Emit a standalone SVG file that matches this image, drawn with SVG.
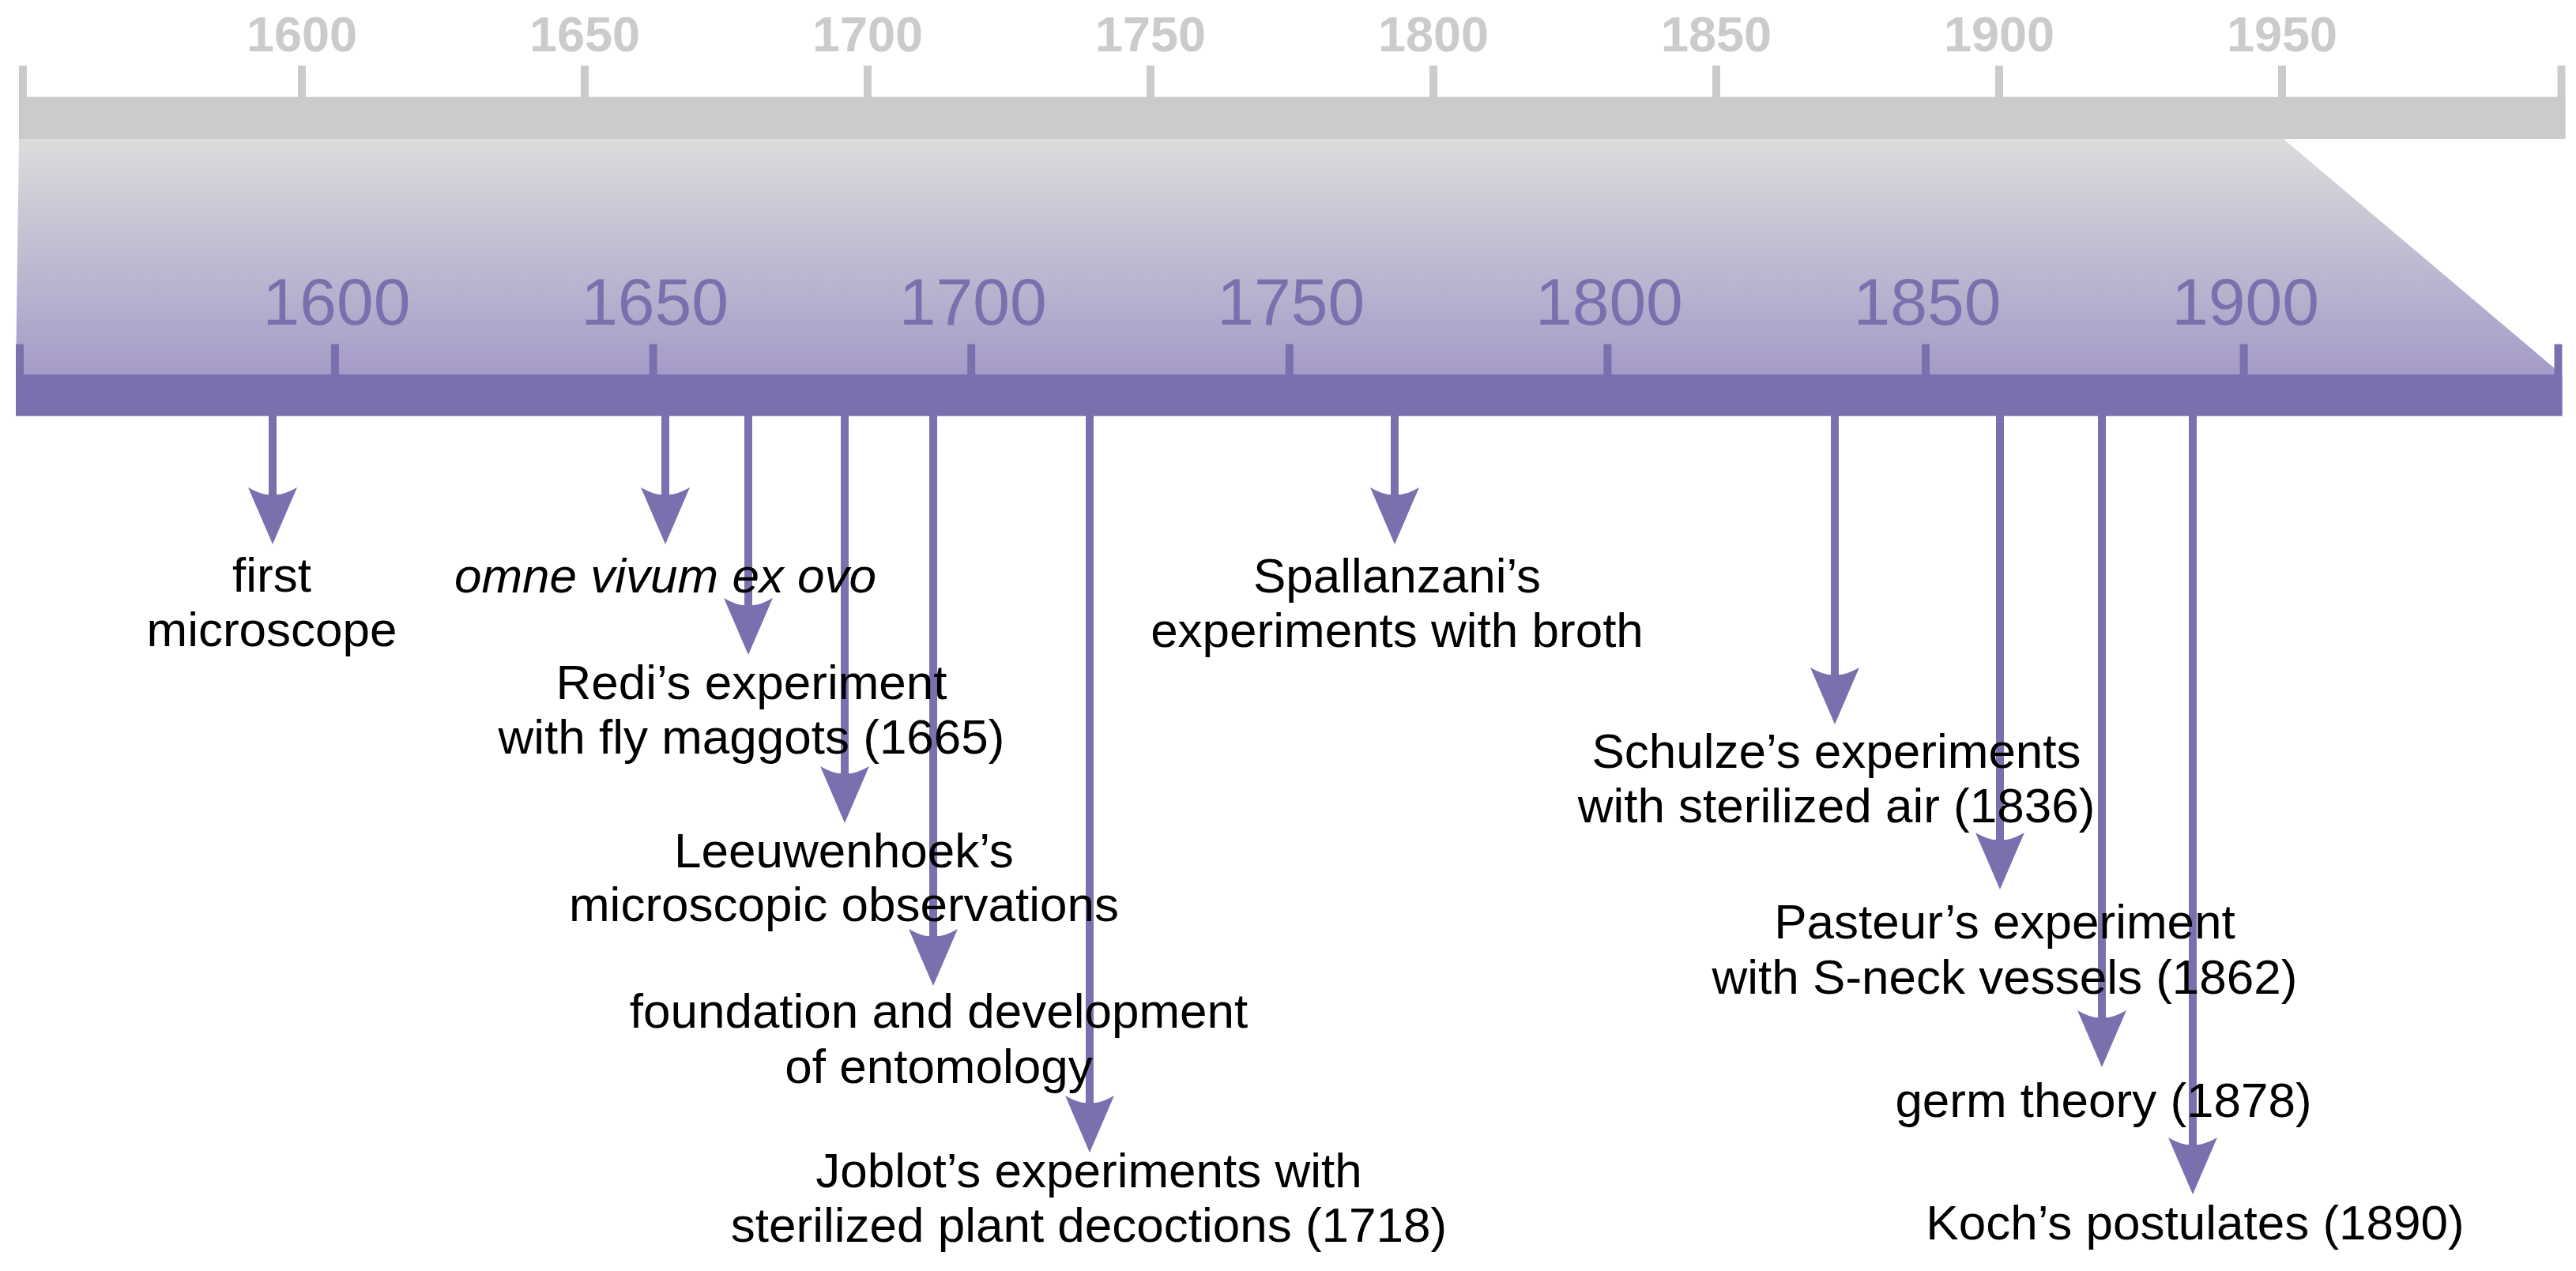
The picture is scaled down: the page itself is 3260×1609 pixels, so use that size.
<svg xmlns="http://www.w3.org/2000/svg" width="3260" height="1609" viewBox="0 0 3260 1609">
<style>
.gt{font-family:"Liberation Sans",Arial,sans-serif;font-weight:bold;font-size:63px;fill:#cbcbcb;text-anchor:middle}
.pt{font-family:"Liberation Sans",Arial,sans-serif;font-size:84px;fill:#7b70ae;text-anchor:middle}
.lb{font-family:"Liberation Sans",Arial,sans-serif;font-size:62px;fill:#000;text-anchor:middle}
.it{font-style:italic}
.gtick{stroke:#cbcbcb;stroke-width:10}
.ptick{stroke:#7b70ae;stroke-width:10}
.stem{stroke:#7b70ae;stroke-width:10;fill:none}
.head{fill:#7b70ae}
</style>
<defs>
<linearGradient id="fade" x1="0" y1="176" x2="0" y2="474" gradientUnits="userSpaceOnUse">
<stop offset="0" stop-color="#dcdcdc"/>
<stop offset="1" stop-color="#a59bc8"/>
</linearGradient>
<path id="ah" d="M-31,-72 Q-12,-61 0,-63 Q12,-61 31,-72 L0,0 Z"/>
</defs>
<g id="zoom-fade">
<polygon points="24,176 2890,176 3242,474 20,474" fill="url(#fade)"/>
</g>
<g id="top-scale">
<rect x="24" y="122.7" width="3222.7" height="53.3" fill="#cbcbcb"/>
<g class="gtick">
<line x1="29" y1="83" x2="29" y2="123"/>
<line x1="382" y1="83" x2="382" y2="123"/>
<line x1="740" y1="83" x2="740" y2="123"/>
<line x1="1098" y1="83" x2="1098" y2="123"/>
<line x1="1456" y1="83" x2="1456" y2="123"/>
<line x1="1814" y1="83" x2="1814" y2="123"/>
<line x1="2172" y1="83" x2="2172" y2="123"/>
<line x1="2530" y1="83" x2="2530" y2="123"/>
<line x1="2888" y1="83" x2="2888" y2="123"/>
<line x1="3241.5" y1="83" x2="3241.5" y2="123"/>
</g>
<text class="gt" x="382" y="65">1600</text>
<text class="gt" x="740" y="65">1650</text>
<text class="gt" x="1098" y="65">1700</text>
<text class="gt" x="1456" y="65">1750</text>
<text class="gt" x="1814" y="65">1800</text>
<text class="gt" x="2172" y="65">1850</text>
<text class="gt" x="2530" y="65">1900</text>
<text class="gt" x="2888" y="65">1950</text>
</g>
<g id="bottom-scale">
<rect x="20" y="474" width="3222.7" height="52.7" fill="#7b70ae"/>
<g class="ptick">
<line x1="25" y1="435.7" x2="25" y2="474"/>
<line x1="424" y1="435.7" x2="424" y2="474"/>
<line x1="826.6" y1="435.7" x2="826.6" y2="474"/>
<line x1="1229.2" y1="435.7" x2="1229.2" y2="474"/>
<line x1="1631.8" y1="435.7" x2="1631.8" y2="474"/>
<line x1="2034.4" y1="435.7" x2="2034.4" y2="474"/>
<line x1="2437" y1="435.7" x2="2437" y2="474"/>
<line x1="2839.6" y1="435.7" x2="2839.6" y2="474"/>
<line x1="3237.5" y1="435.7" x2="3237.5" y2="474"/>
</g>
<text class="pt" x="426" y="411">1600</text>
<text class="pt" x="828.6" y="411">1650</text>
<text class="pt" x="1231.2" y="411">1700</text>
<text class="pt" x="1633.8" y="411">1750</text>
<text class="pt" x="2036.4" y="411">1800</text>
<text class="pt" x="2439" y="411">1850</text>
<text class="pt" x="2841.6" y="411">1900</text>
</g>
<g id="connectors">
<line class="stem" x1="345" y1="526" x2="345" y2="630"/><use href="#ah" class="head" x="345" y="689"/>
<line class="stem" x1="842" y1="526" x2="842" y2="630"/><use href="#ah" class="head" x="842" y="689"/>
<line class="stem" x1="947" y1="526" x2="947" y2="770"/><use href="#ah" class="head" x="947" y="829"/>
<line class="stem" x1="1069" y1="526" x2="1069" y2="983"/><use href="#ah" class="head" x="1069" y="1042"/>
<line class="stem" x1="1181" y1="526" x2="1181" y2="1189"/><use href="#ah" class="head" x="1181" y="1248"/>
<line class="stem" x1="1379" y1="526" x2="1379" y2="1400"/><use href="#ah" class="head" x="1379" y="1459"/>
<line class="stem" x1="1765" y1="526" x2="1765" y2="630"/><use href="#ah" class="head" x="1765" y="689"/>
<line class="stem" x1="2322" y1="526" x2="2322" y2="858"/><use href="#ah" class="head" x="2322" y="917"/>
<line class="stem" x1="2531" y1="526" x2="2531" y2="1067"/><use href="#ah" class="head" x="2531" y="1126"/>
<line class="stem" x1="2660" y1="526" x2="2660" y2="1292"/><use href="#ah" class="head" x="2660" y="1351"/>
<line class="stem" x1="2775" y1="526" x2="2775" y2="1453"/><use href="#ah" class="head" x="2775" y="1512"/>
</g>
<g id="n-microscope"><text class="lb" x="344" y="749">first</text><text class="lb" x="344" y="818">microscope</text></g>
<g id="n-omne"><text class="lb it" x="842" y="750">omne vivum ex ovo</text></g>
<g id="n-redi"><text class="lb" x="951" y="885">Redi’s experiment</text><text class="lb" x="951" y="954">with fly maggots (1665)</text></g>
<g id="n-leeuwenhoek"><text class="lb" x="1068" y="1098">Leeuwenhoek’s</text><text class="lb" x="1068" y="1166">microscopic observations</text></g>
<g id="n-entomology"><text class="lb" x="1188" y="1301">foundation and development</text><text class="lb" x="1188" y="1371">of entomology</text></g>
<g id="n-joblot"><text class="lb" x="1378" y="1503">Joblot’s experiments with</text><text class="lb" x="1378" y="1572">sterilized plant decoctions (1718)</text></g>
<g id="n-spallanzani"><text class="lb" x="1768" y="750">Spallanzani’s</text><text class="lb" x="1768" y="819">experiments with broth</text></g>
<g id="n-schulze"><text class="lb" x="2324" y="972">Schulze’s experiments</text><text class="lb" x="2324" y="1041">with sterilized air (1836)</text></g>
<g id="n-pasteur"><text class="lb" x="2537" y="1188">Pasteur’s experiment</text><text class="lb" x="2537" y="1258">with S-neck vessels (1862)</text></g>
<g id="n-germ"><text class="lb" x="2662" y="1414">germ theory (1878)</text></g>
<g id="n-koch"><text class="lb" x="2778" y="1569">Koch’s postulates (1890)</text></g>
</svg>
